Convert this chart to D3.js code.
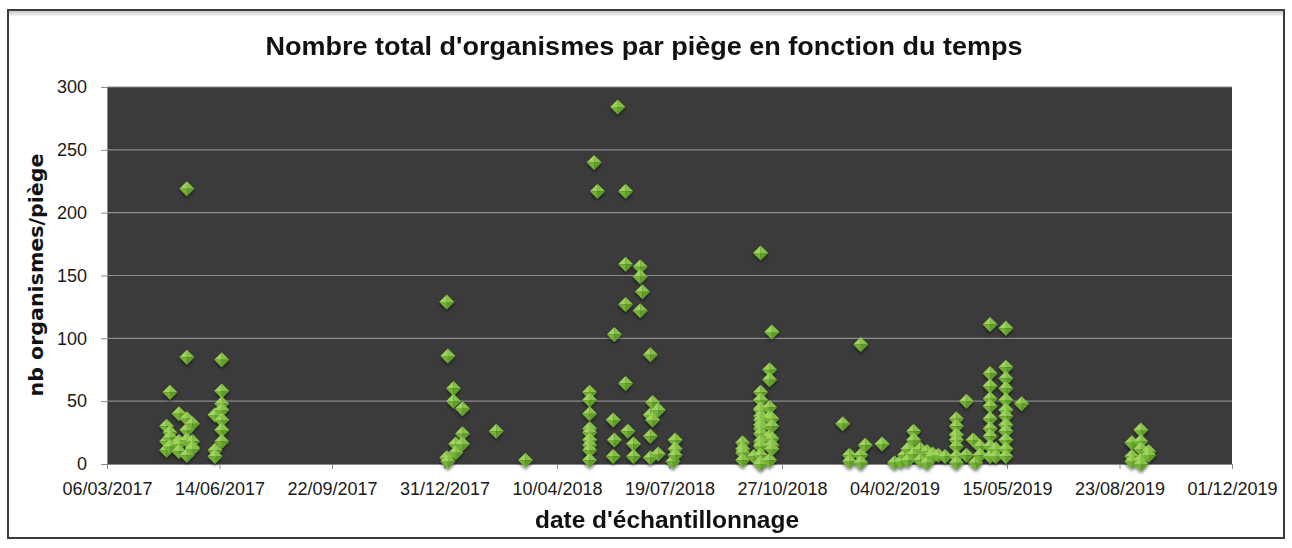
<!DOCTYPE html>
<html lang="fr"><head><meta charset="UTF-8">
<script src="https://d3js.org/d3.v7.min.js"></script>
<style>
  body { margin: 0; background: #fff; }
  #chart { position: absolute; left: 0; top: 0; }
</style>
</head>
<body>
<div id="chart"></div>
<script>

// x ticks every 100 days (Excel axis 42800 -> 43800)
const tickLabels = ["06/03/2017", "14/06/2017", "22/09/2017", "31/12/2017", "10/04/2018",
  "19/07/2018", "27/10/2018", "04/02/2019", "15/05/2019", "23/08/2019", "01/12/2019"];
const yTicks = [0, 50, 100, 150, 200, 250, 300];

// one entry per sampling date, counts = all traps of that date
const sampleDates = [
  "28/04/2017", "01/05/2017", "09/05/2017", "16/05/2017", "21/05/2017", "10/06/2017", "16/06/2017",
  "02/01/2018", "03/01/2018", "08/01/2018", "10/01/2018", "16/01/2018", "15/02/2018", "13/03/2018",
  "09/05/2018", "13/05/2018", "16/05/2018", "30/05/2018", "31/05/2018", "03/06/2018", "10/06/2018",
  "12/06/2018", "17/06/2018", "23/06/2018", "25/06/2018", "02/07/2018", "04/07/2018", "09/07/2018",
  "22/07/2018", "24/07/2018",
  "22/09/2018", "02/10/2018", "08/10/2018", "16/10/2018", "18/10/2018",
  "20/12/2018", "26/12/2018", "05/01/2019", "09/01/2019", "24/01/2019", "04/02/2019", "10/02/2019",
  "13/02/2019", "16/02/2019", "21/02/2019", "27/02/2019", "05/03/2019", "10/03/2019", "15/03/2019",
  "21/03/2019", "31/03/2019", "09/04/2019", "15/04/2019", "17/04/2019", "21/04/2019", "30/04/2019",
  "05/05/2019", "14/05/2019", "28/05/2019",
  "03/09/2019", "11/09/2019", "18/09/2019"
];
const sampleCounts = [
  [30, 18, 11], [57, 25, 21, 14], [40, 18, 16, 10], [219, 85, 36, 27, 19, 7], [32, 18, 13, 12],
  [39, 11, 6], [83, 58, 48, 43, 35, 27, 18],
  [129, 5], [86, 2], [60, 50], [16, 9], [44, 24, 16], [26], [3],
  [57, 51, 40, 28, 25, 19, 15, 11, 3], [240], [217], [35, 6], [103, 19], [284], [217, 159, 127, 64],
  [26], [16, 6], [157, 149, 122], [137], [87, 39, 22, 5], [49, 35], [43, 8],
  [2], [19, 12, 7],
  [17, 12, 9, 3], [6], [168, 57, 51, 44, 43, 38, 35, 31, 28, 24, 18, 15, 14, 7, 1, 0],
  [75, 67, 45, 37, 22, 3], [105, 36, 30, 20, 15, 12],
  [32], [7, 2], [95, 7, 1], [15], [16], [1], [2],
  [7], [12, 3], [26, 19, 8], [12, 3], [10, 1], [8, 6], [7],
  [6], [36, 30, 23, 19, 14, 6, 1], [50, 7], [19], [1], [14, 7], [111, 72, 62, 52, 46, 36, 28, 22, 14, 6],
  [12, 6], [108, 77, 68, 60, 51, 43, 38, 31, 26, 19, 12, 6], [48],
  [17, 6, 2], [27, 18, 12, 3, 0], [10, 7]
];

const title = "Nombre total d'organismes par piège en fonction du temps";
const xLabel = "date d'échantillonnage";
const yLabel = "nb organismes/piège";

function drawChart() {
  const width = 1292, height = 548;
  const left = 107, right = 1232, top = 87, bottom = 464;
  const parse = d3.utcParse("%d/%m/%Y");
  const tickDates = tickLabels.map(parse);

  const points = [];
  sampleDates.forEach((d, i) => {
    sampleCounts[i].forEach(v => points.push({ date: parse(d), value: v }));
  });

  const x = d3.scaleUtc()
    .domain([tickDates[0], tickDates[tickDates.length - 1]])
    .range([left, right]);
  const y = d3.scaleLinear().domain([0, 300]).range([bottom, top]);

  const svg = d3.select("#chart").append("svg")
    .attr("width", width)
    .attr("height", height)
    .attr("viewBox", [0, 0, width, height]);

  const defs = svg.append("defs");
  const band = defs.append("linearGradient").attr("id", "band").attr("x1", 0).attr("x2", 0).attr("y1", 0).attr("y2", 1);
  band.append("stop").attr("offset", 0).attr("stop-color", "#c8c8c8");
  band.append("stop").attr("offset", 1).attr("stop-color", "#ffffff");
  defs.append("filter").attr("id", "shadow").attr("x", "-50%").attr("y", "-50%").attr("width", "200%").attr("height", "200%")
    .append("feDropShadow").attr("dx", 0).attr("dy", 2).attr("stdDeviation", 1.5)
    .attr("flood-color", "#000").attr("flood-opacity", 0.55);

  // outer frame
  svg.append("rect").attr("x", 9).attr("y", 11).attr("width", 1274).attr("height", 6).attr("fill", "url(#band)");
  svg.append("rect")
    .attr("x", 8).attr("y", 10).attr("width", 1276).attr("height", 528)
    .attr("fill", "none").attr("stroke", "#3c3c3c").attr("stroke-width", 2);

  // plot area
  svg.append("rect")
    .attr("x", left).attr("y", top)
    .attr("width", right - left).attr("height", bottom - top)
    .attr("fill", "#3b3b3b");

  svg.append("g")
    .selectAll("line")
    .data(yTicks.filter(t => t > 0))
    .join("line")
    .attr("x1", left).attr("x2", right)
    .attr("y1", d => y(d)).attr("y2", d => y(d))
    .attr("stroke", "#8d8d8d").attr("stroke-width", 1.2);

  const yAxis = d3.axisLeft(y).tickValues(yTicks).tickSize(6).tickPadding(14);
  svg.append("g")
    .attr("transform", `translate(${left},0)`)
    .call(yAxis)
    .call(g => g.select(".domain").attr("stroke", "#8a8a8a"))
    .call(g => g.selectAll(".tick line").attr("stroke", "#8a8a8a"))
    .call(g => g.selectAll(".tick text")
      .attr("fill", "#1a1a1a")
      .style("font-family", "'Liberation Sans', Arial, sans-serif")
      .style("font-size", "18px"));

  const xAxis = d3.axisBottom(x).tickValues(tickDates).tickFormat((d, i) => tickLabels[i]).tickSize(5).tickPadding(13);
  svg.append("g")
    .attr("transform", `translate(0,${bottom})`)
    .call(xAxis)
    .call(g => g.select(".domain").attr("stroke", "#8a8a8a"))
    .call(g => g.selectAll(".tick line").attr("stroke", "#8a8a8a"))
    .call(g => g.selectAll(".tick text")
      .attr("fill", "#1a1a1a")
      .style("font-family", "'Liberation Sans', Arial, sans-serif")
      .style("font-size", "18px"));

  // green bevelled diamonds
  const r = 7.5;
  const facets = [
    { pts: [[0, 0], [-r, 0], [0, -r]], color: "#9fd25e" },
    { pts: [[0, 0], [0, -r], [r, 0]], color: "#86c246" },
    { pts: [[0, 0], [r, 0], [0, r]], color: "#5f9e2b" },
    { pts: [[0, 0], [0, r], [-r, 0]], color: "#73b236" }
  ];
  const marks = svg.append("g").attr("filter", "url(#shadow)")
    .selectAll("g")
    .data(points)
    .join("g")
    .attr("transform", d => `translate(${x(d.date)},${y(d.value)})`);
  facets.forEach(f => {
    marks.append("path")
      .attr("d", "M" + f.pts.map(p => p.join(",")).join("L") + "Z")
      .attr("fill", f.color);
  });

  svg.append("text")
    .attr("x", 644).attr("y", 55)
    .attr("text-anchor", "middle")
    .attr("textLength", 757).attr("lengthAdjust", "spacingAndGlyphs")
    .style("font-family", "'Liberation Sans', Arial, sans-serif")
    .style("font-weight", "bold").style("font-size", "26px")
    .attr("fill", "#111")
    .text(title);

  svg.append("text")
    .attr("x", 667).attr("y", 528)
    .attr("text-anchor", "middle")
    .attr("textLength", 264).attr("lengthAdjust", "spacingAndGlyphs")
    .style("font-family", "'Liberation Sans', Arial, sans-serif")
    .style("font-weight", "bold").style("font-size", "23px")
    .attr("fill", "#111")
    .text(xLabel);

  svg.append("text")
    .attr("transform", "translate(43,275) rotate(-90)")
    .attr("text-anchor", "middle")
    .attr("textLength", 243).attr("lengthAdjust", "spacingAndGlyphs")
    .style("font-family", "'DejaVu Sans', Verdana, sans-serif")
    .style("font-weight", "bold").style("font-size", "20px")
    .attr("fill", "#111")
    .text(yLabel);
}

drawChart();
</script>
</body>
</html>
